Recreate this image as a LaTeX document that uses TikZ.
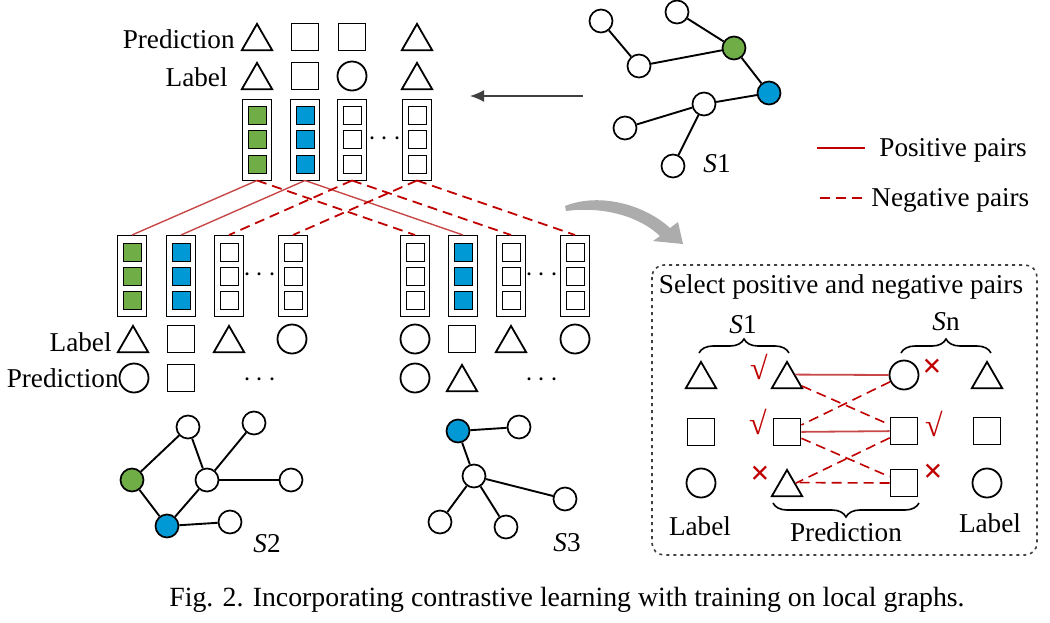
\documentclass[tikz,border=0pt]{standalone}
\usepackage{fontspec}
\setmainfont{Liberation Serif}
\usetikzlibrary{shapes.geometric, decorations.pathreplacing, arrows.meta}

\definecolor{gfill}{RGB}{112,173,71}
\definecolor{bfill}{RGB}{0,153,214}
\definecolor{pairred}{RGB}{192,0,0}
\definecolor{posred}{RGB}{200,72,72}
\definecolor{bendgray}{RGB}{172,172,172}
\definecolor{arrowdark}{RGB}{64,64,64}

\tikzset{
    tri/.style={draw, regular polygon, regular polygon sides=3, minimum size=17.5pt, inner sep=0pt, line width=0.9pt, yshift=-2.2pt},
    sq/.style={draw, rectangle, minimum size=13.5pt, inner sep=0pt, line width=0.9pt},
    circ/.style={draw, circle, minimum size=14.5pt, inner sep=0pt, line width=0.9pt},
    vecbox/.style={draw, rectangle, minimum width=14.5pt, minimum height=40.5pt, inner sep=0pt, line width=0.5pt},
    cell/.style={draw, rectangle, minimum size=9pt, inner sep=0pt, line width=0.5pt},
    gnode/.style={draw, circle, minimum size=11.5pt, inner sep=0pt, line width=0.85pt, fill=white},
    gedge/.style={line width=0.95pt},
    posline/.style={posred, line width=0.7pt},
    negline/.style={pairred, line width=0.9pt, dash pattern=on 5pt off 3pt},
    txt/.style={font=\fontsize{13.6}{16}\selectfont, inner sep=0pt},
    chk/.style={text=pairred, font=\fontsize{16}{16}\selectfont\bfseries, inner sep=0pt},
    crs/.style={text=pairred, font=\fontsize{17}{17}\selectfont\bfseries, inner sep=0pt},
    curly/.style={decorate, decoration={brace, amplitude=7pt}, line width=0.8pt}
}

\begin{document}
\begin{tikzpicture}[x=0.5pt, y=-0.5pt]
        \useasboundingbox (0,0) rectangle (1050,622);

        % top predictions and labels
                \node[txt, anchor=base east] (tpred) at (235,48) {Prediction};
                \node[txt, anchor=base east] (tlab) at (228,86) {Label};
                \foreach \x/\s [count=\i] in {257/tri, 305/sq, 352/sq, 417/tri} {
                    \node[\s] (tp\i) at (\x,37) {};
                }
                \foreach \x/\s [count=\i] in {257/tri, 305/sq, 352/circ, 417/tri} {
                    \node[\s] (tl\i) at (\x,76) {};
                }

        % top vectors
                \foreach \x/\c [count=\i] in {257/gfill, 305/bfill, 352/white, 417/white} {
                    \node[vecbox] (t\i) at (\x,139.5) {};
                    \foreach \dy [count=\j] in {-24.5, 0, 24.5} {
                        \node[cell, fill=\c] (t\i-\j) at (\x,139.5+\dy) {};
                    }
                }
                \node[txt] (tdots) at (385,139) {$\cdots$};

        % middle vectors
                \foreach \x/\c [count=\i] in {132/gfill, 181/bfill, 229/white, 293/white, 415/white, 463/bfill, 511/white, 575/white} {
                    \node[vecbox] (m\i) at (\x,276) {};
                    \foreach \dy [count=\j] in {-24, 0, 24} {
                        \node[cell, fill=\c] (m\i-\j) at (\x,276+\dy) {};
                    }
                }
                \node[txt] (mdots1) at (260,275) {$\cdots$};
                \node[txt] (mdots2) at (542,275) {$\cdots$};

        % pairs between vectors
                \draw[posline] (t1.south) -- (m1.north);
                \draw[posline] (t2.south) -- (m2.north);
                \draw[posline] (t2.south) -- (m6.north);
                \draw[negline] (t3.south) -- (m3.north);
                \draw[negline] (t4.south) -- (m4.north);
                \draw[negline] (t1.south) -- (m5.north);
                \draw[negline] (t3.south) -- (m7.north);
                \draw[negline] (t4.south) -- (m8.north);

        % middle labels and predictions
                \node[txt, anchor=base east] (mlab) at (112,351) {Label};
                \node[txt, anchor=base east] (mpred) at (119,387) {Prediction};
                \foreach \x/\s [count=\i] in {133/tri, 181/sq, 229/tri, 292/circ, 415/circ, 462/sq, 511/tri, 575/circ} {
                    \node[\s] (ml\i) at (\x,339) {};
                }
                \foreach \x/\s [count=\i] in {134/circ, 181/sq, 415/circ, 462/tri} {
                    \node[\s] (mp\i) at (\x,378) {};
                }
                \node[txt] (pdots1) at (260,380) {$\cdots$};
                \node[txt] (pdots2) at (542,380) {$\cdots$};

        % graph S1
                \node[gnode] (a1) at (601,21) {};
                \node[gnode] (a2) at (677,12) {};
                \node[gnode] (a3) at (639,66) {};
                \node[gnode, fill=gfill] (a4) at (734,48) {};
                \node[gnode, fill=bfill] (a5) at (769,93) {};
                \node[gnode] (a6) at (704,104) {};
                \node[gnode] (a7) at (625,128) {};
                \node[gnode] (a8) at (673,166) {};
                \draw[gedge] (a1) -- (a3) -- (a4) -- (a5) -- (a6) -- (a7);
                \draw[gedge] (a2) -- (a4);
                \draw[gedge] (a6) -- (a8);
                \node[txt, anchor=base] (s1) at (717,172) {\textit{S}1};

        % graph S2
                \node[gnode, fill=gfill] (b1) at (132,480) {};
                \node[gnode] (b2) at (188,427) {};
                \node[gnode] (b3) at (254,423) {};
                \node[gnode] (b4) at (207,480) {};
                \node[gnode] (b5) at (291,480) {};
                \node[gnode, fill=bfill] (b6) at (167,526) {};
                \node[gnode] (b7) at (230,522) {};
                \draw[gedge] (b1) -- (b2) -- (b4) -- (b3);
                \draw[gedge] (b4) -- (b5);
                \draw[gedge] (b4) -- (b6) -- (b1);
                \draw[gedge] (b6) -- (b7);
                \node[txt, anchor=base] (s2) at (267,552) {\textit{S}2};

        % graph S3
                \node[gnode, fill=bfill] (c1) at (458,431) {};
                \node[gnode] (c2) at (519,427) {};
                \node[gnode] (c3) at (474,476) {};
                \node[gnode] (c4) at (565,499) {};
                \node[gnode] (c5) at (440,522) {};
                \node[gnode] (c6) at (506,527) {};
                \draw[gedge] (c2) -- (c1) -- (c3) -- (c4);
                \draw[gedge] (c3) -- (c5);
                \draw[gedge] (c3) -- (c6);
                \node[txt, anchor=base] (s3) at (567,551) {\textit{S}3};

        % arrows
                \coordinate (arrS) at (583,96);
                \coordinate (arrE) at (470,96);
                \draw[arrowdark, line width=0.8pt, -{Latex[length=7pt, width=6pt]}] (arrS) -- (arrE);
                \fill[bendgray] (565,206) .. controls (600,192) and (645,205) .. (670,228)
                    -- (678,222) -- (683,244) -- (653,241) -- (660,236)
                    .. controls (640,217) and (605,206) .. (566,211) -- cycle;

        % legend
                \coordinate (lgp1) at (817,148);
                \coordinate (lgp2) at (865,148);
                \coordinate (lgn1) at (820,198);
                \coordinate (lgn2) at (865,198);
                \draw[pairred, line width=0.8pt] (lgp1) -- (lgp2);
                \draw[negline, line width=0.8pt] (lgn1) -- (lgn2);
                \node[txt, anchor=base west] (lgpos) at (879,156) {Positive pairs};
                \node[txt, anchor=base west] (lgneg) at (871,206) {Negative pairs};

        % selection box
                \draw[arrowdark, line width=0.8pt, dash pattern=on 1.5pt off 2pt, rounded corners=6pt] (652,265) rectangle (1037,555);
                \node[txt, anchor=base] (seltitle) at (841,293) {Select positive and negative pairs};

                \foreach \y/\s [count=\i] in {375/tri, 432/sq, 483/circ} {
                    \node[\s] (ll\i) at (701,\y) {};
                }
                \foreach \y/\s [count=\i] in {375/tri, 432/sq, 483/tri} {
                    \node[\s] (pl\i) at (787,\y) {};
                }
                \foreach \y/\s [count=\i] in {375/circ, 431/sq, 483/sq} {
                    \node[\s] (pr\i) at (904,\y) {};
                }
                \foreach \y/\s [count=\i] in {375/tri, 431/sq, 483/circ} {
                    \node[\s] (lr\i) at (987,\y) {};
                }

                \draw[posline, line width=0.9pt] (pl1.30) -- (pr1.west);
                \draw[posline, line width=0.9pt] (pl2) -- (pr2);
                \draw[negline, line width=0.8pt] (pl1) -- (pr2);
                \draw[negline, line width=0.8pt] (pr1) -- (pl2);
                \draw[negline, line width=0.8pt] (pl2) -- (pr3);
                \draw[negline, line width=0.8pt] (pr2) -- (pl3);
                \draw[negline, line width=0.8pt] (pr3.west) -- (pl3.30);

                \node[chk] (ok1) at (759,367) {√};
                \node[chk] (ok2) at (758,422) {√};
                \node[crs] (no1) at (760,475) {×};
                \node[crs] (no2) at (932,368) {×};
                \node[chk] (ok3) at (934,424) {√};
                \node[crs] (no3) at (933,473) {×};

                \coordinate (brL1) at (699,353);
                \coordinate (brL2) at (789,353);
                \coordinate (brR1) at (901,353);
                \coordinate (brR2) at (991,353);
                \coordinate (brP1) at (919,503);
                \coordinate (brP2) at (773,503);
                \draw[curly] (brL1) -- (brL2);
                \draw[curly] (brR1) -- (brR2);
                \draw[curly] (brP1) -- (brP2);
                \node[txt, anchor=base] (bs1) at (743,333) {\textit{S}1};
                \node[txt, anchor=base] (bsn) at (946,330) {\textit{S}n};
                \node[txt, anchor=base] (blab1) at (700,535) {Label};
                \node[txt, anchor=base] (blab2) at (990,532) {Label};
                \node[txt, anchor=base] (bpred) at (846,541) {Prediction};

        % caption
                \node[inner sep=0pt, anchor=base, font=\fontsize{13.9}{16}\selectfont] (caption) at (567,606) {Fig. 2. Incorporating contrastive learning with training on local graphs.};

\end{tikzpicture}
\end{document}
